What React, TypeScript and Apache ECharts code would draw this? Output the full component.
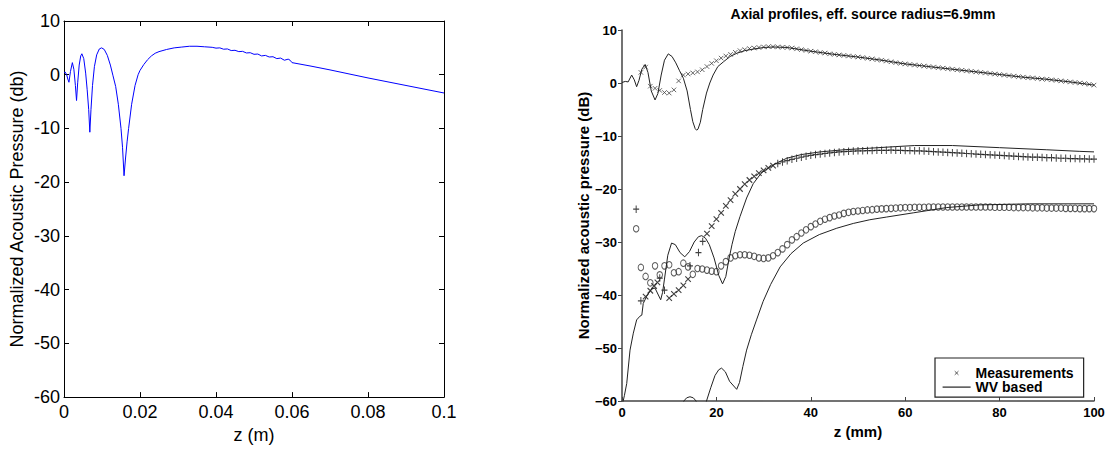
import React, { useEffect, useRef } from 'react';
import * as echarts from 'echarts';

const FONT = '"Liberation Sans", Arial, Helvetica, sans-serif';

// ---------- Left panel: simulated axial profile (z in m, dB) ----------
const leftZ = [0, 0.0003, 0.0007, 0.001, 0.0013, 0.0017, 0.0022, 0.0026, 0.003, 0.0033, 0.0036, 0.004, 0.0044, 0.0047, 0.0052, 0.0057, 0.0061, 0.0065, 0.0068, 0.0071, 0.0075, 0.008, 0.0086, 0.0093, 0.0099, 0.0106, 0.0114, 0.0122, 0.0129, 0.0136, 0.0143, 0.015, 0.0154, 0.0158, 0.0162, 0.0166, 0.017, 0.0178, 0.0187, 0.0195, 0.02, 0.021, 0.022, 0.023, 0.024, 0.025, 0.027, 0.029, 0.031, 0.033, 0.035, 0.037, 0.039, 0.04, 0.041, 0.042, 0.043, 0.044, 0.045, 0.046, 0.047, 0.048, 0.049, 0.05, 0.051, 0.052, 0.053, 0.054, 0.055, 0.056, 0.057, 0.058, 0.059, 0.0595, 0.06, 0.065, 0.07, 0.075, 0.08, 0.085, 0.09, 0.095, 0.1];
const leftDb = [0.4, 0.5, 0.0, -0.8, -1.4, 0.6, 2.25, 1.0, -2.0, -4.8, -1.5, 1.8, 3.5, 3.9, 3.0, 0.3, -2.8, -6.5, -10.7, -6.5, -2.0, 1.5, 3.7, 4.8, 5.0, 4.7, 3.6, 1.8, -0.2, -2.2, -5.5, -10.0, -13.5, -18.8, -15.5, -12.5, -10.0, -5.5, -2.0, 0.0, 0.8, 1.9, 2.8, 3.5, 4.0, 4.3, 4.7, 5.0, 5.15, 5.3, 5.3, 5.2, 5.1, 4.95, 5.0, 4.75, 4.8, 4.5, 4.55, 4.3, 4.35, 4.05, 4.1, 3.8, 3.85, 3.5, 3.6, 3.3, 3.35, 3.0, 3.1, 2.7, 2.9, 2.7, 2.25, 1.6, 0.9, 0.15, -0.6, -1.3, -2.0, -2.7, -3.4];

// ---------- Right panel: WV based lines (z in mm, dB) ----------
const topLineZ = [0, 0.7, 1.3, 2.05, 2.6, 3.1, 3.6, 4.2, 4.9, 5.5, 6.2, 7.0, 7.6, 8.3, 9.0, 9.8, 10.6, 11.4, 12.2, 13.0, 13.8, 14.5, 15.0, 15.5, 15.8, 16.1, 16.6, 17.1, 17.9, 18.6, 19.3, 20.3, 21.5, 22.9, 24.3, 26, 27.8, 30, 32, 35, 40, 45, 50, 55, 60, 65, 70, 75, 80, 85, 90, 95, 100];
const topLineDb = [0.1, 0.3, 0.2, 1.5, 0.6, -0.7, 0.5, 2.6, 3.5, 2.0, -1.5, -3.2, -2.0, 1.5, 4.3, 5.5, 5.0, 3.8, 2.3, 0.9, -1.5, -5.0, -7.3, -8.6, -8.9, -8.7, -7.4, -5.0, -1.9, 0.0, 1.5, 3.1, 4.0, 5.0, 5.6, 6.1, 6.4, 6.7, 6.8, 6.7, 6.0, 5.4, 4.9, 4.3, 3.6, 3.1, 2.6, 2.1, 1.6, 1.1, 0.7, 0.2, -0.4];

const midLineZ = [0, 0.5, 1.0, 1.7, 2.4, 3.1, 3.8, 4.2, 4.5, 5.2, 6.3, 7.0, 7.7, 8.2, 8.6, 9.0, 9.7, 10.5, 11.3, 12.3, 13.3, 14.3, 15.3, 16.2, 16.9, 17.7, 18.5, 19.5, 20.5, 21.3, 22.0, 22.6, 23.3, 24.0, 25.0, 26.4, 27.8, 29.5, 31.4, 33, 34.9, 38, 42, 47, 52.5, 58, 62, 70, 80, 90, 97, 100];
const midLineDb = [-61, -59, -56.7, -50.4, -47.2, -44.7, -44.0, -43.8, -41.6, -40.3, -38.8, -38.7, -40.0, -40.9, -39.5, -37.0, -32.5, -30.2, -30.5, -32.0, -32.8, -31.8, -30.0, -29.0, -28.8, -29.3, -30.5, -33.0, -36.3, -37.9, -36.5, -33.5, -30.5, -28.0, -25.2, -21.7, -19.0, -17.0, -15.8, -15.0, -14.2, -13.5, -13.0, -12.6, -12.3, -12.0, -11.8, -11.8, -12.2, -12.6, -12.9, -13.0];

const botLineZ = [12.4, 13.1, 13.7, 14.4, 15.1, 15.7, 16.3, 17.3, 17.9, 18.8, 19.7, 20.5, 21.1, 21.9, 22.8, 24.3, 24.9, 25.6, 26.4, 27.4, 28.5, 29.9, 31.5, 33.5, 35.8, 38.4, 41.8, 45.5, 49, 52.5, 56, 61.7, 68.8, 75.8, 86.4, 100];
const botLineDb = [-62, -60, -59.4, -59.2, -59.4, -60, -62, -62, -60, -57.5, -55.2, -54.1, -53.8, -54.5, -56.3, -57.8, -56.5, -53.5, -50.4, -47.5, -44.7, -41.2, -38.0, -34.7, -32.2, -30.2, -28.6, -27.4, -26.5, -25.8, -25.3, -24.5, -23.5, -23.0, -22.8, -22.8];

// ---------- Right panel: measurements ----------
const topMeasZ = [4, 5, 6, 7, 8, 9, 10, 11, 12, 13, 14, 15, 16, 17, 18, 19, 20, 21, 22, 23, 24, 25, 26, 27, 28, 29, 30, 31, 32, 33, 34, 35, 36, 37, 38, 39, 40, 41, 42, 43, 44, 45, 46, 47, 48, 49, 50, 51, 52, 53, 54, 55, 56, 57, 58, 59, 60, 61, 62, 63, 64, 65, 66, 67, 68, 69, 70, 71, 72, 73, 74, 75, 76, 77, 78, 79, 80, 81, 82, 83, 84, 85, 86, 87, 88, 89, 90, 91, 92, 93, 94, 95, 96, 97, 98, 99, 100];
const topMeasDb = [2.0, 3.0, -0.6, -1.0, -1.4, -1.8, -1.9, -1.3, 0.4, 1.5, 1.7, 1.9, 2.1, 2.5, 3.1, 3.7, 4.2, 4.7, 5.1, 5.4, 5.8, 6.1, 6.3, 6.5, 6.6, 6.7, 6.8, 6.85, 6.85, 6.8, 6.75, 6.7, 6.6, 6.45, 6.3, 6.15, 6.0, 5.9, 5.75, 5.65, 5.5, 5.4, 5.3, 5.2, 5.1, 5.0, 4.9, 4.8, 4.65, 4.55, 4.4, 4.3, 4.15, 4.0, 3.85, 3.7, 3.6, 3.5, 3.4, 3.3, 3.2, 3.1, 3.0, 2.9, 2.8, 2.7, 2.6, 2.5, 2.4, 2.3, 2.2, 2.1, 2.0, 1.9, 1.8, 1.7, 1.6, 1.5, 1.4, 1.3, 1.2, 1.1, 1.0, 0.95, 0.85, 0.75, 0.7, 0.6, 0.5, 0.4, 0.3, 0.2, 0.1, 0.0, -0.1, -0.25, -0.4];

const midPlusZ = [3, 4, 8, 9, 14.4, 16.2, 17.1, 33, 34, 35, 36, 37, 38, 39, 40, 41, 42, 43, 44, 45, 46, 47, 48, 49, 50, 51, 52, 53, 54, 55, 56, 57, 58, 59, 60, 61, 62, 63, 64, 65, 66, 67, 68, 69, 70, 71, 72, 73, 74, 75, 76, 77, 78, 79, 80, 81, 82, 83, 84, 85, 86, 87, 88, 89, 90, 91, 92, 93, 94, 95, 96, 97, 98, 99, 100];
const midPlusDb = [-23.8, -41.1, -36.8, -39.1, -34.5, -32.0, -29.9, -15.2, -14.9, -14.65, -14.4, -14.2, -14.0, -13.8, -13.65, -13.5, -13.4, -13.3, -13.2, -13.1, -13.0, -12.95, -12.9, -12.85, -12.8, -12.8, -12.75, -12.75, -12.7, -12.7, -12.7, -12.65, -12.7, -12.7, -12.75, -12.75, -12.8, -12.8, -12.85, -12.9, -12.95, -13.0, -13.05, -13.1, -13.15, -13.2, -13.25, -13.3, -13.35, -13.4, -13.45, -13.5, -13.55, -13.6, -13.65, -13.7, -13.75, -13.8, -13.85, -13.9, -13.95, -14.0, -14.0, -14.05, -14.1, -14.1, -14.15, -14.2, -14.2, -14.25, -14.25, -14.3, -14.3, -14.35, -14.35];

const midCrossZ = [5, 6, 6.8, 7.5, 10, 11, 12, 13, 14, 18, 19, 20, 21, 22, 23, 24, 25, 26, 27, 28, 29, 30, 31, 32];
const midCrossDb = [-40.3, -39.2, -38.3, -37.6, -40.6, -39.8, -39.1, -38.2, -37.0, -28.4, -27.0, -25.7, -24.5, -23.2, -22.1, -20.9, -20.0, -19.1, -18.3, -17.6, -17.0, -16.5, -16.0, -15.6];

const botMeasZ = [3, 4, 5, 6, 7, 8, 9, 10, 11, 12, 13, 14, 15, 16, 17, 18, 19, 20, 21, 22, 23, 24, 25, 26, 27, 28, 29, 30, 31, 32, 33, 34, 35, 36, 37, 38, 39, 40, 41, 42, 43, 44, 45, 46, 47, 48, 49, 50, 51, 52, 53, 54, 55, 56, 57, 58, 59, 60, 61, 62, 63, 64, 65, 66, 67, 68, 69, 70, 71, 72, 73, 74, 75, 76, 77, 78, 79, 80, 81, 82, 83, 84, 85, 86, 87, 88, 89, 90, 91, 92, 93, 94, 95, 96, 97, 98, 99, 100];
const botMeasDb = [-27.5, -34.8, -36.5, -37.7, -34.5, -36.2, -34.5, -34.3, -35.8, -35.6, -34.0, -34.7, -36.1, -35.0, -35.1, -35.3, -35.5, -35.6, -34.5, -33.7, -33.0, -32.6, -32.4, -32.4, -32.5, -32.7, -33.0, -33.1, -33.0, -32.6, -32.0, -31.3, -30.5, -29.6, -29.0, -28.3, -27.7, -27.1, -26.6, -26.1, -25.7, -25.4, -25.1, -24.9, -24.6, -24.4, -24.25, -24.15, -24.05, -23.95, -23.9, -23.8, -23.75, -23.7, -23.65, -23.6, -23.55, -23.5, -23.5, -23.45, -23.45, -23.45, -23.4, -23.4, -23.4, -23.4, -23.4, -23.4, -23.4, -23.4, -23.4, -23.4, -23.4, -23.4, -23.4, -23.4, -23.45, -23.45, -23.45, -23.45, -23.5, -23.5, -23.5, -23.5, -23.55, -23.55, -23.55, -23.6, -23.6, -23.6, -23.6, -23.65, -23.65, -23.65, -23.7, -23.7, -23.7, -23.7];

const leftXTicks = { min: 0, max: 0.1, interval: 0.02 };
const dbTicks = { min: -60, max: 10, interval: 10 };
const rightXTicks = { min: 0, max: 100, interval: 20 };

const pairs = (xs: number[], ys: number[]) => xs.map((x, i) => [x, ys[i]]);

const X_PATH = 'path://M0,0L10,10M10,0L0,10';
const PLUS_PATH = 'path://M5,0L5,10M0,5L10,5';

export default function App() {
  const ref = useRef<HTMLDivElement>(null);
  useEffect(() => {
    const chart = echarts.init(ref.current!, null, { renderer: 'svg' });
    const leftAxisLine = { onZero: false, lineStyle: { color: '#000', width: 1 } };
    const leftTick = { inside: true, length: 5, lineStyle: { color: '#000', width: 1 } };
    const leftLabel = { fontSize: 18, color: '#000', fontFamily: FONT };
    const rightAxisLine = { onZero: false, lineStyle: { color: '#444', width: 1.5 } };
    const rightLabel = { fontSize: 13, fontWeight: 'bold', color: '#000', fontFamily: FONT };
    const minusFmt = (v: number) => (v < 0 ? '\u2212' + Math.abs(v) : String(v));

    const option: any = {
      animation: false,
      backgroundColor: '#fff',
      textStyle: { fontFamily: FONT },
      title: {
        text: 'Axial profiles, eff. source radius=6.9mm',
        left: 858,
        top: 2,
        textAlign: 'center',
        textStyle: { fontSize: 14, fontWeight: 'bold', color: '#000', fontFamily: FONT },
      },
      legend: {
        orient: 'vertical',
        left: 935,
        top: 358,
        padding: [8, 10, 3, 7],
        itemGap: 0,
        itemWidth: 28,
        itemHeight: 13,
        borderColor: '#222',
        borderWidth: 1.2,
        backgroundColor: '#fff',
        textStyle: { fontSize: 14, fontWeight: 'bold', color: '#000', lineHeight: 13, fontFamily: FONT },
        data: [
          {
            name: 'Measurements',
            icon: 'path://M0,0M14,14M5,5L9,9M9,5L5,9',
            itemStyle: { color: 'transparent', borderColor: '#333', borderWidth: 1 },
          },
          {
            name: 'WV based',
            icon: 'path://M0,0M28,0M0,6.5L28,6.5M28,13',
            itemStyle: { color: 'transparent', borderColor: '#222', borderWidth: 1.2 },
          },
        ],
      },
      grid: [
        { left: 64, top: 21, width: 380, height: 382 },
        { left: 622, top: 30, width: 472, height: 371 },
      ],
      xAxis: [
        {
          gridIndex: 0, type: 'value', position: 'bottom', ...leftXTicks,
          axisLine: leftAxisLine, axisTick: leftTick, splitLine: { show: false },
          axisLabel: { ...leftLabel, margin: 6 },
          name: 'z (m)', nameLocation: 'middle', nameGap: 27,
          nameTextStyle: { ...leftLabel },
        },
        {
          gridIndex: 0, type: 'value', position: 'top', ...leftXTicks,
          axisLine: leftAxisLine, axisTick: leftTick, splitLine: { show: false },
          axisLabel: { show: false },
        },
        {
          gridIndex: 1, type: 'value', position: 'bottom', ...rightXTicks,
          axisLine: rightAxisLine,
          axisTick: { inside: true, length: 4, lineStyle: { color: '#444', width: 1 } },
          splitLine: { show: false },
          axisLabel: { ...rightLabel, margin: 5 },
          name: 'z (mm)', nameLocation: 'middle', nameGap: 16,
          nameTextStyle: { fontSize: 15, fontWeight: 'bold', color: '#000', fontFamily: FONT },
        },
      ],
      yAxis: [
        {
          gridIndex: 0, type: 'value', position: 'left', ...dbTicks,
          axisLine: leftAxisLine, axisTick: leftTick, splitLine: { show: false },
          axisLabel: { ...leftLabel, margin: 4 },
          name: 'Normalized Acoustic Pressure (db)', nameLocation: 'middle', nameGap: 38,
          nameTextStyle: { ...leftLabel },
        },
        {
          gridIndex: 0, type: 'value', position: 'right', ...dbTicks,
          axisLine: leftAxisLine, axisTick: leftTick, splitLine: { show: false },
          axisLabel: { show: false },
        },
        {
          gridIndex: 1, type: 'value', position: 'left', ...dbTicks,
          axisLine: rightAxisLine,
          axisTick: { inside: false, length: 4, lineStyle: { color: '#444', width: 1 } },
          splitLine: { show: false },
          axisLabel: { ...rightLabel, margin: 5, formatter: minusFmt },
          name: 'Normalized acoustic pressure (dB)', nameLocation: 'middle', nameGap: 30,
          nameTextStyle: { fontSize: 15, fontWeight: 'bold', color: '#000', fontFamily: FONT },
        },
      ],
      series: [
        {
          name: 'Left profile', type: 'line', xAxisIndex: 0, yAxisIndex: 0,
          data: pairs(leftZ, leftDb), symbol: 'none', silent: true,
          lineStyle: { color: '#0000ff', width: 1 },
        },
        {
          name: 'Measurements', type: 'scatter', xAxisIndex: 2, yAxisIndex: 2,
          data: pairs(topMeasZ, topMeasDb), symbol: X_PATH, symbolSize: 4.5, silent: true,
          itemStyle: { color: 'transparent', borderColor: '#444', borderWidth: 1 },
        },
        {
          name: 'Measurements', type: 'scatter', xAxisIndex: 2, yAxisIndex: 2,
          data: pairs(midPlusZ, midPlusDb), symbol: PLUS_PATH, symbolSize: [6, 7.5], silent: true,
          itemStyle: { color: 'transparent', borderColor: '#111', borderWidth: 1.1 },
        },
        {
          name: 'Measurements', type: 'scatter', xAxisIndex: 2, yAxisIndex: 2,
          data: pairs(midCrossZ, midCrossDb), symbol: X_PATH, symbolSize: 5.5, silent: true,
          itemStyle: { color: 'transparent', borderColor: '#111', borderWidth: 1.1 },
        },
        {
          name: 'Measurements', type: 'scatter', xAxisIndex: 2, yAxisIndex: 2,
          data: pairs(botMeasZ, botMeasDb), symbol: 'circle', symbolSize: [5.5, 6.5], silent: true,
          itemStyle: { color: 'transparent', borderColor: '#333', borderWidth: 1 },
        },
        {
          name: 'WV based', type: 'line', xAxisIndex: 2, yAxisIndex: 2,
          data: pairs(topLineZ, topLineDb), symbol: 'none', silent: true,
          lineStyle: { color: '#222', width: 1 },
        },
        {
          name: 'WV based', type: 'line', xAxisIndex: 2, yAxisIndex: 2,
          data: pairs(midLineZ, midLineDb), symbol: 'none', silent: true,
          lineStyle: { color: '#222', width: 1 },
        },
        {
          name: 'WV based', type: 'line', xAxisIndex: 2, yAxisIndex: 2,
          data: pairs(botLineZ, botLineDb), symbol: 'none', silent: true,
          lineStyle: { color: '#222', width: 1 },
        },
      ],
    };
    chart.setOption(option);
    return () => chart.dispose();
  }, []);
  return (
    <div
      ref={ref}
      style={{ position: 'fixed', left: 0, top: 0, width: 1108, height: 449, background: '#fff' }}
    />
  );
}
